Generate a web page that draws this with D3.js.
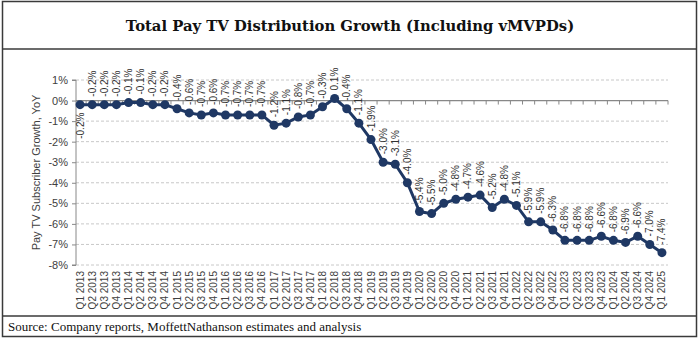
<!DOCTYPE html>
<html>
<head>
<meta charset="utf-8">
<script src="https://cdn.jsdelivr.net/npm/d3@7"></script>
<style>
body { margin: 0; background: #fff; }
svg { display: block; }
.tick text { font-family: 'Liberation Sans', Arial, sans-serif; fill: #404040; }
</style>
</head>
<body>
<div id="chart"></div>
<script>
const quarters = [
	'Q1 2013', 'Q2 2013', 'Q3 2013', 'Q4 2013',
	'Q1 2014', 'Q2 2014', 'Q3 2014', 'Q4 2014',
	'Q1 2015', 'Q2 2015', 'Q3 2015', 'Q4 2015',
	'Q1 2016', 'Q2 2016', 'Q3 2016', 'Q4 2016',
	'Q1 2017', 'Q2 2017', 'Q3 2017', 'Q4 2017',
	'Q1 2018', 'Q2 2018', 'Q3 2018', 'Q4 2018',
	'Q1 2019', 'Q2 2019', 'Q3 2019', 'Q4 2019',
	'Q1 2020', 'Q2 2020', 'Q3 2020', 'Q4 2020',
	'Q1 2021', 'Q2 2021', 'Q3 2021', 'Q4 2021',
	'Q1 2022', 'Q2 2022', 'Q3 2022', 'Q4 2022',
	'Q1 2023', 'Q2 2023', 'Q3 2023', 'Q4 2023',
	'Q1 2024', 'Q2 2024', 'Q3 2024', 'Q4 2024',
	'Q1 2025'
];
const growth = [
	-0.2, -0.2, -0.2, -0.2,
	-0.1, -0.1, -0.2, -0.2,
	-0.4, -0.6, -0.7, -0.6,
	-0.7, -0.7, -0.7, -0.7,
	-1.2, -1.1, -0.8, -0.7,
	-0.3, 0.1, -0.4, -1.1,
	-1.9, -3.0, -3.1, -4.0,
	-5.4, -5.5, -5.0, -4.8,
	-4.7, -4.6, -5.2, -4.8,
	-5.1, -5.9, -5.9, -6.3,
	-6.8, -6.8, -6.8, -6.6,
	-6.8, -6.9, -6.6, -7.0,
	-7.4
];
const yTicks = [1, 0, -1, -2, -3, -4, -5, -6, -7, -8];
const title = 'Total Pay TV Distribution Growth (Including vMVPDs)';
const source = 'Source: Company reports, MoffettNathanson estimates and analysis';
const yTitle = 'Pay TV Subscriber Growth, YoY';

const W = 700, H = 339;
const plot = {left: 74, right: 668, top: 80, bottom: 265};

const svg = d3.select('#chart')
	.append('svg')
	.attr('width', W)
	.attr('height', H);

// frame
svg.append('rect')
	.attr('x', 2.5).attr('y', 1.5)
	.attr('width', 694).attr('height', 335)
	.attr('fill', 'none')
	.attr('stroke', '#3a3a3a')
	.attr('stroke-width', 1.5);
[49, 316].forEach(y => {
	svg.append('line')
		.attr('x1', 2.5).attr('x2', 696.5)
		.attr('y1', y).attr('y2', y)
		.attr('stroke', '#3a3a3a')
		.attr('stroke-width', 1.5);
});

svg.append('text')
	.attr('x', 350)
	.attr('y', 31)
	.attr('text-anchor', 'middle')
	.style('font-family', "'DejaVu Serif', Georgia, serif")
	.style('font-weight', 'bold')
	.style('font-size', '14.8px')
	.style('fill', '#111')
	.text(title);

svg.append('text')
	.attr('x', 8)
	.attr('y', 331)
	.style('font-family', "'Liberation Serif', 'Times New Roman', serif")
	.style('font-size', '13px')
	.style('fill', '#111')
	.text(source);

const xScale = d3.scaleBand()
	.domain(quarters)
	.range([plot.left, plot.right]);

const yScale = d3.scaleLinear()
	.domain([-8, 1])
	.range([plot.bottom, plot.top]);

const cx = q => xScale(q) + xScale.bandwidth() / 2;

// gridlines
svg.append('g')
	.selectAll('line')
	.data(yTicks.filter(d => d !== 0))
	.join('line')
	.attr('x1', plot.left + 2)
	.attr('x2', plot.right)
	.attr('y1', d => yScale(d))
	.attr('y2', d => yScale(d))
	.attr('stroke', '#c8c8c8')
	.attr('stroke-width', 1)
	.attr('stroke-dasharray', '3,2');

// y axis
const yAxis = d3.axisLeft(yScale)
	.tickValues(yTicks)
	.tickSize(4)
	.tickPadding(4)
	.tickFormat(d => d + '%');

svg.append('g')
	.attr('class', 'y-axis')
	.attr('transform', `translate(${plot.left + 2}, 0)`)
	.call(yAxis)
	.call(g => g.select('.domain').attr('stroke', '#888').attr('d', `M-4,${plot.top}H0V${plot.bottom}H-4`))
	.call(g => g.selectAll('.tick line').attr('stroke', '#888'))
	.call(g => g.selectAll('.tick text').style('font-size', '11px'));

// zero line with quarter ticks
svg.append('line')
	.attr('x1', plot.left + 2).attr('x2', plot.right)
	.attr('y1', yScale(0)).attr('y2', yScale(0))
	.attr('stroke', '#888')
	.attr('stroke-width', 1.2);

svg.append('g')
	.selectAll('line')
	.data(quarters.slice(1))
	.join('line')
	.attr('x1', d => xScale(d))
	.attr('x2', d => xScale(d))
	.attr('y1', yScale(0))
	.attr('y2', yScale(0) + 4)
	.attr('stroke', '#888');
svg.append('line')
	.attr('x1', plot.right).attr('x2', plot.right)
	.attr('y1', yScale(0)).attr('y2', yScale(0) + 4)
	.attr('stroke', '#888');

// category labels at the bottom
const xAxis = d3.axisBottom(xScale).tickSize(0).tickPadding(0);
svg.append('g')
	.attr('class', 'x-axis')
	.attr('transform', `translate(0, ${plot.bottom + 6})`)
	.call(xAxis)
	.call(g => g.select('.domain').remove())
	.call(g => g.selectAll('.tick text')
		.style('font-size', '10px')
		.attr('text-anchor', 'end')
		.attr('transform', 'rotate(-90)')
		.attr('x', 0)
		.attr('y', 0)
		.attr('dy', '0.35em'));

svg.append('text')
	.attr('transform', `translate(40, ${(plot.top + plot.bottom) / 2}) rotate(-90)`)
	.attr('text-anchor', 'middle')
	.style('font-family', "'Liberation Sans', Arial, sans-serif")
	.style('font-size', '11px')
	.style('fill', '#404040')
	.text(yTitle);

// series
const points = quarters.map((q, i) => ({q: q, v: growth[i]}));

svg.append('path')
	.datum(points)
	.attr('fill', 'none')
	.attr('stroke', '#1f3864')
	.attr('stroke-width', 3)
	.attr('d', d3.line().x(d => cx(d.q)).y(d => yScale(d.v)));

svg.append('g')
	.selectAll('circle')
	.data(points)
	.join('circle')
	.attr('cx', d => cx(d.q))
	.attr('cy', d => yScale(d.v))
	.attr('r', 4.5)
	.attr('fill', '#1f3864');

// value labels
svg.append('g')
	.selectAll('text')
	.data(points)
	.join('text')
	.attr('transform', (d, i) => {
		const y = i === 0 ? yScale(d.v) + 8 : yScale(d.v) - 8;
		return `translate(${cx(d.q)}, ${y}) rotate(-90)`;
	})
	.attr('text-anchor', (d, i) => i === 0 ? 'end' : 'start')
	.attr('dy', '0.35em')
	.style('font-family', "'Liberation Sans', Arial, sans-serif")
	.style('font-size', '10px')
	.style('fill', '#333')
	.text(d => d.v.toFixed(1) + '%');
</script>
</body>
</html>
